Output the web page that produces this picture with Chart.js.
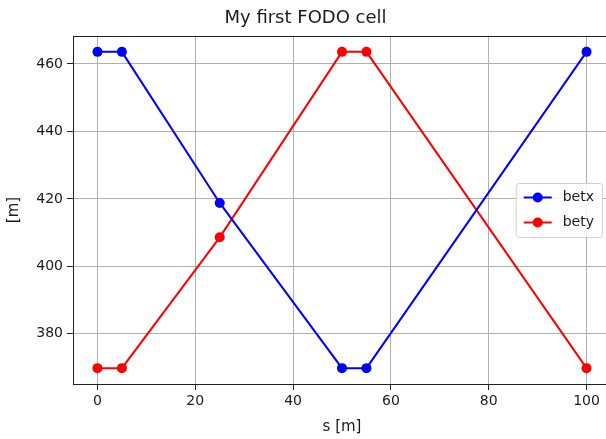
<!DOCTYPE html>
<html><head><meta charset="utf-8">
<script src="https://cdn.jsdelivr.net/npm/chart.js@4/dist/chart.umd.min.js"></script>
<style>html,body{margin:0;padding:0;background:#fff;overflow:hidden;width:606px;height:439px}
#c{display:block}</style></head>
<body><canvas id="c" width="620" height="439"></canvas>
<script>
const sPositions = [0, 5, 25, 50, 55, 100];
const betx = [463.6, 463.6, 418.8, 369.8, 369.8, 463.6];
const bety = [369.8, 369.8, 408.6, 463.6, 463.6, 369.8];
const xTicks = [0, 20, 40, 60, 80, 100];
const yTicks = [380, 400, 420, 440, 460];
const seriesNames = ['betx', 'bety'];
const seriesColors = ['#0000ff', '#ff0000'];
const titleText = 'My first FODO cell';
const xLabel = 's [m]';
const yLabel = '[m]';

const FONT = "'DejaVu Sans', sans-serif";
Chart.defaults.font.family = FONT;
Chart.defaults.color = '#1a1a1a';

function pts(vals){ return sPositions.map((s,i)=>({x:s, y:vals[i]})); }

const framePlugin = {
  id: 'frame',
  afterDatasetsDraw(chart){
    const {ctx, chartArea:a} = chart;
    ctx.save();
    ctx.strokeStyle = '#222';
    ctx.lineWidth = 1;
    ctx.strokeRect(Math.round(a.left)+0.5, Math.round(a.top)+0.5, Math.round(a.right-a.left), Math.round(a.bottom-a.top));
    ctx.restore();
  }
};

const legendPlugin = {
  id: 'mplLegend',
  afterDraw(chart){
    const {ctx, chartArea:a} = chart;
    const fs = 14;
    ctx.save();
    ctx.font = fs + "px " + FONT;
    const textW = Math.max(...seriesNames.map(n=>ctx.measureText(n).width));
    const right = a.right - 9;
    const rowH = 25;
    const h = rowH*seriesNames.length + 4;
    const w = 8 + 28 + 11 + textW + 8;
    const left = right - w;
    const cy = (a.top + a.bottom)/2;
    const top = cy - h/2;
    ctx.beginPath();
    ctx.roundRect(left+0.5, top+0.5, w, h, 3);
    ctx.fillStyle = 'rgba(255,255,255,0.85)';
    ctx.fill();
    ctx.strokeStyle = '#d0d0d0';
    ctx.lineWidth = 1;
    ctx.stroke();
    seriesNames.forEach((n,i)=>{
      const y = top + 2 + rowH*(i+0.5);
      const x0 = left + 8;
      ctx.strokeStyle = seriesColors[i];
      ctx.lineWidth = 2;
      ctx.beginPath(); ctx.moveTo(x0, y); ctx.lineTo(x0+28, y); ctx.stroke();
      ctx.fillStyle = seriesColors[i];
      ctx.beginPath(); ctx.arc(x0+14, y, 5, 0, Math.PI*2); ctx.fill();
      ctx.fillStyle = '#1a1a1a';
      ctx.textBaseline = 'middle';
      ctx.textAlign = 'left';
      ctx.fillText(n, x0+28+11, y);
    });
    ctx.restore();
  }
};

new Chart(document.getElementById('c'), {
  type: 'line',
  data: {
    datasets: [
      {label: seriesNames[0], data: pts(betx), borderColor: seriesColors[0], backgroundColor: seriesColors[0],
       borderWidth: 2, pointRadius: 5, pointBorderWidth: 0, tension: 0},
      {label: seriesNames[1], data: pts(bety), borderColor: seriesColors[1], backgroundColor: seriesColors[1],
       borderWidth: 2, pointRadius: 5, pointBorderWidth: 0, tension: 0}
    ]
  },
  options: {
    responsive: false,
    animation: false,
    devicePixelRatio: 1,
    layout: {padding: {left: 0, right: 9, top: 0, bottom: 0}},
    plugins: {
      legend: {display: false},
      tooltip: {enabled: false},
      title: {display: true, text: titleText, font: {size: 18, weight: 'normal'}, color: '#1a1a1a',
              padding: {top: 8, bottom: 6.4}}
    },
    scales: {
      x: {
        type: 'linear', min: -5, max: 105,
        afterBuildTicks(s){ s.ticks = xTicks.map(v=>({value:v})); },
        afterFit(s){ s.height = 55; },
        grid: {color: '#b0b0b0', lineWidth: 1, tickLength: 6, tickColor: '#222', drawOnChartArea: true},
        border: {display: false},
        ticks: {font: {size: 14}, color: '#1a1a1a', padding: 3, maxRotation: 0},
        title: {display: true, text: xLabel, font: {size: 15}, color: '#1a1a1a', padding: {top: 0, bottom: 3}}
      },
      y: {
        type: 'linear', min: 365.1, max: 468.3,
        afterBuildTicks(s){ s.ticks = yTicks.map(v=>({value:v})); },
        afterFit(s){ s.width = 73; },
        grid: {color: '#b0b0b0', lineWidth: 1, tickLength: 6, tickColor: '#222'},
        border: {display: false},
        ticks: {font: {size: 14}, color: '#1a1a1a', padding: 4},
        title: {display: true, text: yLabel, font: {size: 15}, color: '#1a1a1a', padding: {top: 5, bottom: 0}}
      }
    }
  },
  plugins: [framePlugin, legendPlugin]
});
</script>
</body></html>
